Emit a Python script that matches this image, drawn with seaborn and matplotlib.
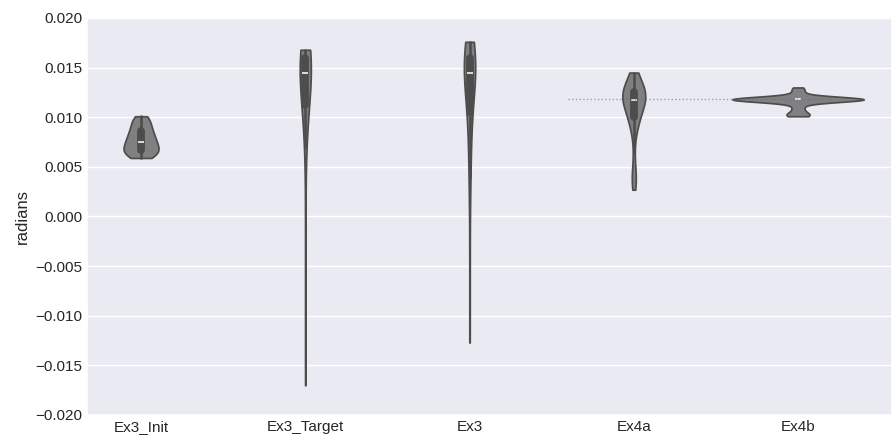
import numpy as np
import pandas as pd
import matplotlib
matplotlib.use("Agg")
import matplotlib.pyplot as plt
import seaborn as sns

# categories on the x axis
categories = ["Ex3_Init", "Ex3_Target", "Ex3", "Ex4a", "Ex4b"]

# sample values (radians) and how often each one occurs
ex3_init_vals = [0.0059, 0.0062, 0.0065, 0.0068, 0.0071, 0.0074, 0.0077, 0.0080,
                 0.0083, 0.0086, 0.0089, 0.0092, 0.0095, 0.0098, 0.0101]
ex3_init_counts = [4, 6, 6, 6, 5, 5, 5, 4, 4, 4, 3, 3, 3, 3, 3]

ex3_target_vals = [-0.0170, -0.0120, -0.0070, -0.0020, 0.0030, 0.0070, 0.0090, 0.0100,
                   0.0110, 0.0120, 0.0130, 0.0140, 0.0145, 0.0150, 0.0155, 0.0160,
                   0.0165, 0.0168]
ex3_target_counts = [1, 1, 1, 1, 1, 1, 2, 2, 3, 3, 3, 3, 4, 4, 5, 5, 5, 5]

ex3_vals = [-0.0127, -0.0080, -0.0030, 0.0010, 0.0040, 0.0060, 0.0080, 0.0095, 0.0105,
            0.0115, 0.0125, 0.0135, 0.0140, 0.0145, 0.0150, 0.0155, 0.0160, 0.0165,
            0.0170, 0.0176]
ex3_counts = [1, 1, 1, 1, 2, 2, 2, 2, 2, 2, 3, 3, 3, 4, 4, 4, 4, 4, 4, 3]

ex4a_vals = [0.0027, 0.0032, 0.0037, 0.0042, 0.0048, 0.0055, 0.0065, 0.0075, 0.0085,
             0.0090, 0.0095, 0.0100, 0.0105, 0.0110, 0.0115, 0.0120, 0.0125, 0.0130,
             0.0135, 0.0140, 0.0145]
ex4a_counts = [1, 2, 3, 2, 1, 1, 1, 1, 2, 3, 4, 4, 5, 7, 8, 13, 11, 8, 6, 4, 3]

ex4b_vals = [0.0101, 0.0102, 0.0103, 0.0105, 0.0107, 0.0109, 0.0111, 0.0113, 0.0115,
             0.0118, 0.0121, 0.0123, 0.0125, 0.0127, 0.0129, 0.0130]
ex4b_counts = [4, 4, 3, 2, 2, 2, 2, 2, 2, 66, 2, 2, 2, 2, 2, 2]

# reference level drawn as a dotted line
ref_level = 0.0118
ref_start, ref_end = 2.6, 4.2

series = {
    "Ex3_Init": (ex3_init_vals, ex3_init_counts),
    "Ex3_Target": (ex3_target_vals, ex3_target_counts),
    "Ex3": (ex3_vals, ex3_counts),
    "Ex4a": (ex4a_vals, ex4a_counts),
    "Ex4b": (ex4b_vals, ex4b_counts),
}

frames = []
for name, (vals, counts) in series.items():
    frames.append(pd.DataFrame({"run": name, "radians": np.repeat(vals, counts)}))
df = pd.concat(frames, ignore_index=True)

sns.set_theme(style="darkgrid", rc={"xtick.major.size": 0, "ytick.major.size": 0})
plt.rcParams["font.family"] = ["Liberation Sans", "DejaVu Sans"]

fig = plt.figure(figsize=(8.92, 4.41), dpi=100)
ax = fig.add_axes([87 / 892, 26 / 441, 1 - 87 / 892, 397 / 441])

sns.violinplot(data=df, x="run", y="radians", order=categories,
               color="grey", cut=0, ax=ax)
ax.hlines(ref_level, ref_start, ref_end, colors="#4c72b0", linestyles="dotted",
          linewidth=1, alpha=0.6)

ax.set_ylim(-0.02, 0.02)
ax.set_xlim(-0.329, 4.572)
ax.set_xlabel("")
ax.set_ylabel("radians")

fig.savefig("out.png", dpi=100)
